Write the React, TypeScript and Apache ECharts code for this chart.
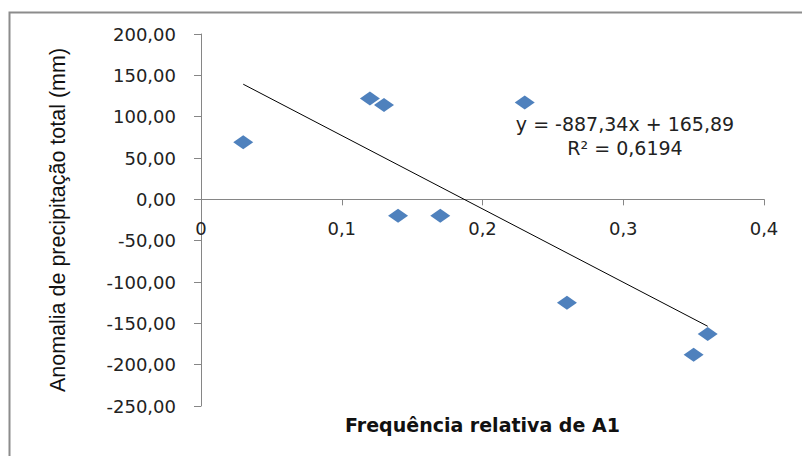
import React, { useEffect, useRef } from "react";
import * as echarts from "echarts";

const freqA1 = [0.03, 0.12, 0.13, 0.14, 0.17, 0.23, 0.26, 0.35, 0.36];
const anomalia = [69, 122, 114, -20, -20, 117, -125, -188, -163];
const trendSlope = -887.34;
const trendIntercept = 165.89;
const trendRange = [0.03, 0.36];
const yMin = -250;
const yMax = 200;
const equationText = "y = -887,34x + 165,89";
const r2Text = "R² = 0,6194";
const xTitle = "Frequência relativa de A1";
const yTitle = "Anomalia de precipitação total (mm)";

const W = 802;
const H = 456;
const GRID = { left: 201, right: 38, top: 34, bottom: 50 };

export default function App() {
  const ref = useRef<HTMLDivElement>(null);
  useEffect(() => {
    if (!ref.current) return;
    const chart = echarts.init(ref.current, undefined, { renderer: "svg" });
    const points = freqA1.map((x, i) => [x, anomalia[i]]);
    const trend = trendRange.map((x) => [x, trendSlope * x + trendIntercept]);
    const axisColor = "#868686";
    const plotH = H - GRID.top - GRID.bottom;
    // move the x axis up from the grid bottom to the y = 0 line
    const zeroOffset = -(plotH * (0 - yMin)) / (yMax - yMin);
    chart.setOption({
      animation: false,
      backgroundColor: "#fff",
      grid: { ...GRID, outerBoundsMode: "none" },
      xAxis: {
        type: "value",
        min: 0,
        max: 0.4,
        interval: 0.1,
        position: "bottom",
        offset: zeroOffset,
        name: xTitle,
        nameLocation: "middle",
        nameGap: 216,
        nameTextStyle: { fontFamily: "DejaVu Sans", fontSize: 19, fontWeight: "bold", color: "#111" },
        axisLine: { onZero: false, lineStyle: { color: axisColor, width: 1 } },
        axisTick: { show: true, inside: false, length: 6, lineStyle: { color: axisColor } },
        axisLabel: {
          margin: 20,
          fontFamily: "DejaVu Sans",
          fontSize: 18,
          color: "#222",
          formatter: (v: number) => (v === 0 ? "0" : v.toFixed(1).replace(".", ",")),
        },
        splitLine: { show: false },
      },
      yAxis: {
        type: "value",
        min: yMin,
        max: yMax,
        interval: 50,
        name: yTitle,
        nameLocation: "middle",
        nameGap: 132,
        nameTextStyle: { fontFamily: "Liberation Sans", fontSize: 21.5, color: "#111" },
        axisLine: { show: true, onZero: false, lineStyle: { color: axisColor, width: 1 } },
        axisTick: { show: true, inside: false, length: 7, lineStyle: { color: axisColor } },
        axisLabel: {
          margin: 25,
          fontFamily: "DejaVu Sans",
          fontSize: 18,
          color: "#222",
          formatter: (v: number) => v.toFixed(2).replace(".", ","),
        },
        splitLine: { show: false },
      },
      graphic: [
        {
          type: "rect",
          left: 7,
          top: 10,
          shape: { width: 900, height: 600 },
          style: { fill: "none", stroke: "#8c8c8c", lineWidth: 2 },
          silent: true,
          z: 0,
        },
        {
          type: "text",
          x: 625,
          y: 114,
          style: { text: equationText, fontFamily: "DejaVu Sans", fontSize: 19, fill: "#222", align: "center" },
        },
        {
          type: "text",
          x: 625,
          y: 138,
          style: { text: r2Text, fontFamily: "DejaVu Sans", fontSize: 19, fill: "#222", align: "center" },
        },
      ],
      series: [
        {
          type: "line",
          data: trend,
          showSymbol: false,
          symbol: "none",
          lineStyle: { color: "#000", width: 1 },
          z: 2,
        },
        {
          type: "scatter",
          data: points,
          symbol: "diamond",
          symbolSize: [20, 14],
          itemStyle: { color: "#4F81BD", opacity: 1 },
          z: 3,
        },
      ],
    });
    return () => chart.dispose();
  }, []);
  return (
    <div
      ref={ref}
      style={{ position: "fixed", left: 0, top: 0, width: W, height: H }}
    />
  );
}
